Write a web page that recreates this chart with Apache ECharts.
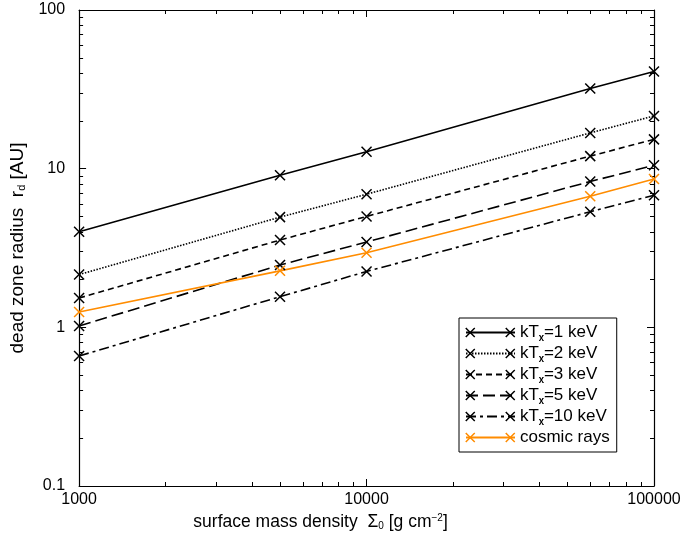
<!DOCTYPE html>
<html>
<head>
<meta charset="utf-8">
<script src="https://cdn.jsdelivr.net/npm/echarts@6/dist/echarts.min.js"></script>
<style>
  html, body { margin: 0; padding: 0; background: #fff; }
  #chart { width: 684px; height: 541px; }
</style>
</head>
<body>
<div id="chart"></div>
<script>
// surface mass density (g cm^-2)
let sigma = [1000, 5000, 10000, 60000, 100000];

// dead zone radius (AU) for each ionisation source
let kT1 = [4.0, 9.1, 12.8, 32.0, 41.0];
let kT2 = [2.15, 4.95, 6.9, 16.8, 21.5];
let kT3 = [1.53, 3.55, 5.0, 12.0, 15.3];
let kT5 = [1.02, 2.47, 3.45, 8.3, 10.5];
let kT10 = [0.66, 1.56, 2.25, 5.35, 6.8];
let cosmic = [1.25, 2.27, 2.95, 6.7, 8.6];

let names = ['kTx=1 keV', 'kTx=2 keV', 'kTx=3 keV', 'kTx=5 keV', 'kTx=10 keV', 'cosmic rays'];

// tick values
let xMajor = [1000, 10000, 100000];
let yMajor = [0.1, 1, 10, 100];
let xMinor = [2000, 3000, 4000, 5000, 6000, 7000, 8000, 9000,
              20000, 30000, 40000, 50000, 60000, 70000, 80000, 90000];
let yMinor = [0.2, 0.3, 0.4, 0.5, 0.6, 0.7, 0.8, 0.9,
              2, 3, 4, 5, 6, 7, 8, 9,
              20, 30, 40, 50, 60, 70, 80, 90];

const FONT = 'Liberation Sans';
const CROSS = 'path://M0,0L10,10M10,0L0,10';
// legend marker: a cross at each end of the sample line
const CROSS_PAIR = 'path://M0,0L9,9M9,0L0,9M40,0L49,9M49,0L40,9';

function pairs(ys) {
    return sigma.map(function (x, i) { return [x, ys[i]]; });
}

function plain(v) { return String(v); }

function xAx(pos, show, minor) {
    return {
        type: 'log', logBase: 10, min: 1000, max: 100000, position: pos,
        gridIndex: 0,
        axisLine: { show: !minor, onZero: false, lineStyle: { color: '#000', width: 1.2 } },
        axisTick: { show: true, inside: true, length: minor ? 4 : 7,
            customValues: minor ? xMinor : xMajor,
            lineStyle: { color: '#000', width: 1 } },
        axisLabel: { show: show, customValues: xMajor, formatter: plain,
            color: '#000', fontFamily: FONT, fontSize: 16, margin: 6 },
        splitLine: { show: false },
        minorTick: { show: false }
    };
}

function yAx(pos, show, minor) {
    return {
        type: 'log', logBase: 10, min: 0.1, max: 100, position: pos,
        gridIndex: 0,
        axisLine: { show: !minor, onZero: false, lineStyle: { color: '#000', width: 1.2 } },
        axisTick: { show: true, inside: true, length: minor ? 4 : 7,
            customValues: minor ? yMinor : yMajor,
            lineStyle: { color: '#000', width: 1 } },
        axisLabel: { show: show, customValues: yMajor, formatter: plain,
            color: '#000', fontFamily: FONT, fontSize: 16, margin: 14 },
        splitLine: { show: false },
        minorTick: { show: false }
    };
}

let xMain = xAx('bottom', true, false);
xMain.name = 'surface mass density  Σ{sub|0} [g cm{sup|−2}]';
xMain.nameLocation = 'middle';
xMain.nameGap = 26;
xMain.nameTextStyle = {
    color: '#000', fontFamily: FONT, fontSize: 17.5, padding: [0, 92, 0, 0],
    rich: {
        sub: { fontFamily: FONT, fontSize: 10, color: '#000', verticalAlign: 'bottom', padding: [8, 0, 0, 0] },
        sup: { fontFamily: FONT, fontSize: 10, color: '#000', verticalAlign: 'top', padding: [0, 0, 8, 0] }
    }
};

let yMain = yAx('left', true, false);
yMain.name = 'dead zone radius  r{sub|d} [AU]';
yMain.nameLocation = 'middle';
yMain.nameGap = 50;
yMain.nameTextStyle = {
    color: '#000', fontFamily: FONT, fontSize: 19,
    rich: {
        sub: { fontFamily: FONT, fontSize: 11, color: '#000', verticalAlign: 'bottom', padding: [9, 0, 0, 0] }
    }
};

let styles = [
    { type: 'solid', color: '#000' },
    { type: [1.5, 1.5], color: '#000' },
    { type: [6, 4], color: '#000' },
    { type: [12, 5], color: '#000' },
    { type: [10, 4, 3, 4], color: '#000' },
    { type: 'solid', color: '#ff8c00' }
];
let values = [kT1, kT2, kT3, kT5, kT10, cosmic];

let series = values.map(function (v, i) {
    return {
        name: names[i],
        type: 'line',
        xAxisIndex: 0,
        yAxisIndex: 0,
        data: pairs(v),
        symbol: CROSS,
        symbolSize: 10,
        showAllSymbol: true,
        itemStyle: { color: styles[i].color, borderColor: styles[i].color, borderWidth: 1.5 },
        lineStyle: { color: styles[i].color, width: 1.6, type: styles[i].type },
        emphasis: { disabled: true },
        animation: false
    };
});

let legendText = {
    color: '#000', fontFamily: FONT, fontSize: 17, lineHeight: 21,
    rich: {
        sub: { fontFamily: FONT, fontSize: 10, color: '#000', lineHeight: 21,
               verticalAlign: 'bottom', padding: [8, 0, 0, 0] }
    }
};

function legendFmt(n) { return n.replace('kTx', 'kT{sub|x}'); }

let option = {
    animation: false,
    backgroundColor: '#fff',
    grid: { left: 77, right: 30, top: 10, bottom: 55 },
    xAxis: [xMain, xAx('bottom', false, true), xAx('top', false, false), xAx('top', false, true)],
    yAxis: [yMain, yAx('left', false, true), yAx('right', false, false), yAx('right', false, true)],
    legend: [
        {
            // lines and text, with box
            orient: 'vertical',
            left: 459,
            top: 318,
            padding: [4, 7, 4, 6],
            itemGap: 0,
            itemWidth: 49,
            itemHeight: 9,
            backgroundColor: '#fff',
            borderColor: '#000',
            borderWidth: 1,
            borderRadius: 0,
            selectedMode: false,
            data: names,
            itemStyle: { opacity: 0 },
            formatter: legendFmt,
            textStyle: legendText
        },
        {
            // end crosses on top of the sample lines
            orient: 'vertical',
            left: 459,
            top: 318,
            padding: [4, 7, 4, 6],
            itemGap: 0,
            itemWidth: 49,
            itemHeight: 9,
            icon: CROSS_PAIR,
            selectedMode: false,
            data: names,
            itemStyle: { borderWidth: 1.5 },
            formatter: legendFmt,
            textStyle: Object.assign({}, legendText, { color: 'rgba(0,0,0,0)' })
        }
    ],
    series: series
};

let chart = echarts.init(document.getElementById('chart'));
chart.setOption(option);
</script>
</body>
</html>
